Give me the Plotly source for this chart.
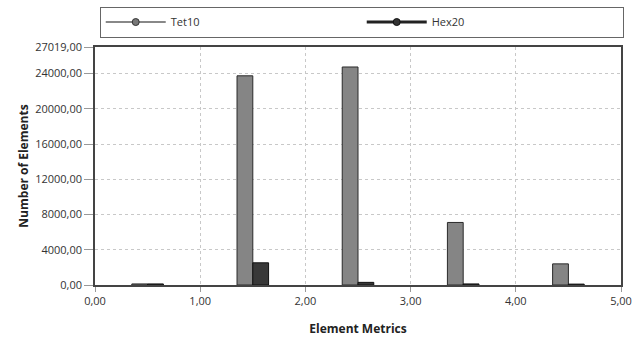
import plotly.graph_objects as go

bins = [0.5, 1.5, 2.5, 3.5, 4.5]
tet10 = [120, 23750, 24750, 7100, 2400]
hex20 = [120, 2520, 300, 120, 100]
y_ticks = [0, 4000, 8000, 12000, 16000, 20000, 24000, 27019]
y_labels = ["0,00", "4000,00", "8000,00", "12000,00", "16000,00", "20000,00", "24000,00", "27019,00"]
x_ticks = [0, 1, 2, 3, 4, 5]
x_labels = ["0,00", "1,00", "2,00", "3,00", "4,00", "5,00"]

fig = go.Figure()
fig.add_trace(go.Bar(x=bins, y=tet10, name="Tet10", showlegend=False,
                     marker=dict(color="#858585", line=dict(color="#2a2a2a", width=1))))
fig.add_trace(go.Bar(x=bins, y=hex20, name="Hex20", showlegend=False,
                     marker=dict(color="#383838", line=dict(color="#111111", width=1))))
fig.add_trace(go.Scatter(x=[None], y=[None], mode="lines+markers", name="Tet10",
                         line=dict(color="#888888", width=2),
                         marker=dict(color="#777777", size=7, line=dict(color="#333333", width=1))))
fig.add_trace(go.Scatter(x=[None], y=[None], mode="lines+markers", name="Hex20",
                         line=dict(color="#222222", width=3),
                         marker=dict(color="#333333", size=7, line=dict(color="#111111", width=1))))

axis_font = dict(family="Open Sans, Noto Sans, sans-serif", size=11, color="#333333")
fig.update_layout(
    width=644, height=341,
    margin=dict(l=95, r=23, t=47, b=56, autoexpand=False),
    paper_bgcolor="white", plot_bgcolor="white",
    barmode="group", bargap=0.7, bargroupgap=0,
    font=axis_font,
    legend=dict(orientation="h", x=0.009, y=1.17, xanchor="left", yanchor="top",
                bordercolor="#666666", borderwidth=1, entrywidth=186, entrywidthmode="pixels",
                font=dict(size=11, color="#333333"), tracegroupgap=0,
                itemwidth=60),
    xaxis=dict(range=[0, 5], tickvals=x_ticks, ticktext=x_labels, automargin=False,
               showgrid=True, gridcolor="#c8c8c8", griddash="dot", gridwidth=1,
               showline=True, linecolor="#444444", linewidth=1.5, mirror=True,
               ticks="outside", ticklen=5, tickcolor="#999999", zeroline=False,
               title=dict(text="<b>Element Metrics</b>", font=dict(size=12, color="#222222"), standoff=18)),
    yaxis=dict(range=[0, 27019], tickvals=y_ticks, ticktext=y_labels, automargin=False,
               showgrid=True, gridcolor="#c8c8c8", griddash="dot", gridwidth=1,
               showline=True, linecolor="#444444", linewidth=1.5, mirror=True,
               ticks="outside", ticklen=9, tickcolor="#999999", zeroline=False,
               title=dict(text="<b>Number of Elements</b>", font=dict(size=12, color="#222222"), standoff=4)),
)

fig.write_html("out.html", config={"displayModeBar": False},
               post_script="document.body.style.margin='0';")
